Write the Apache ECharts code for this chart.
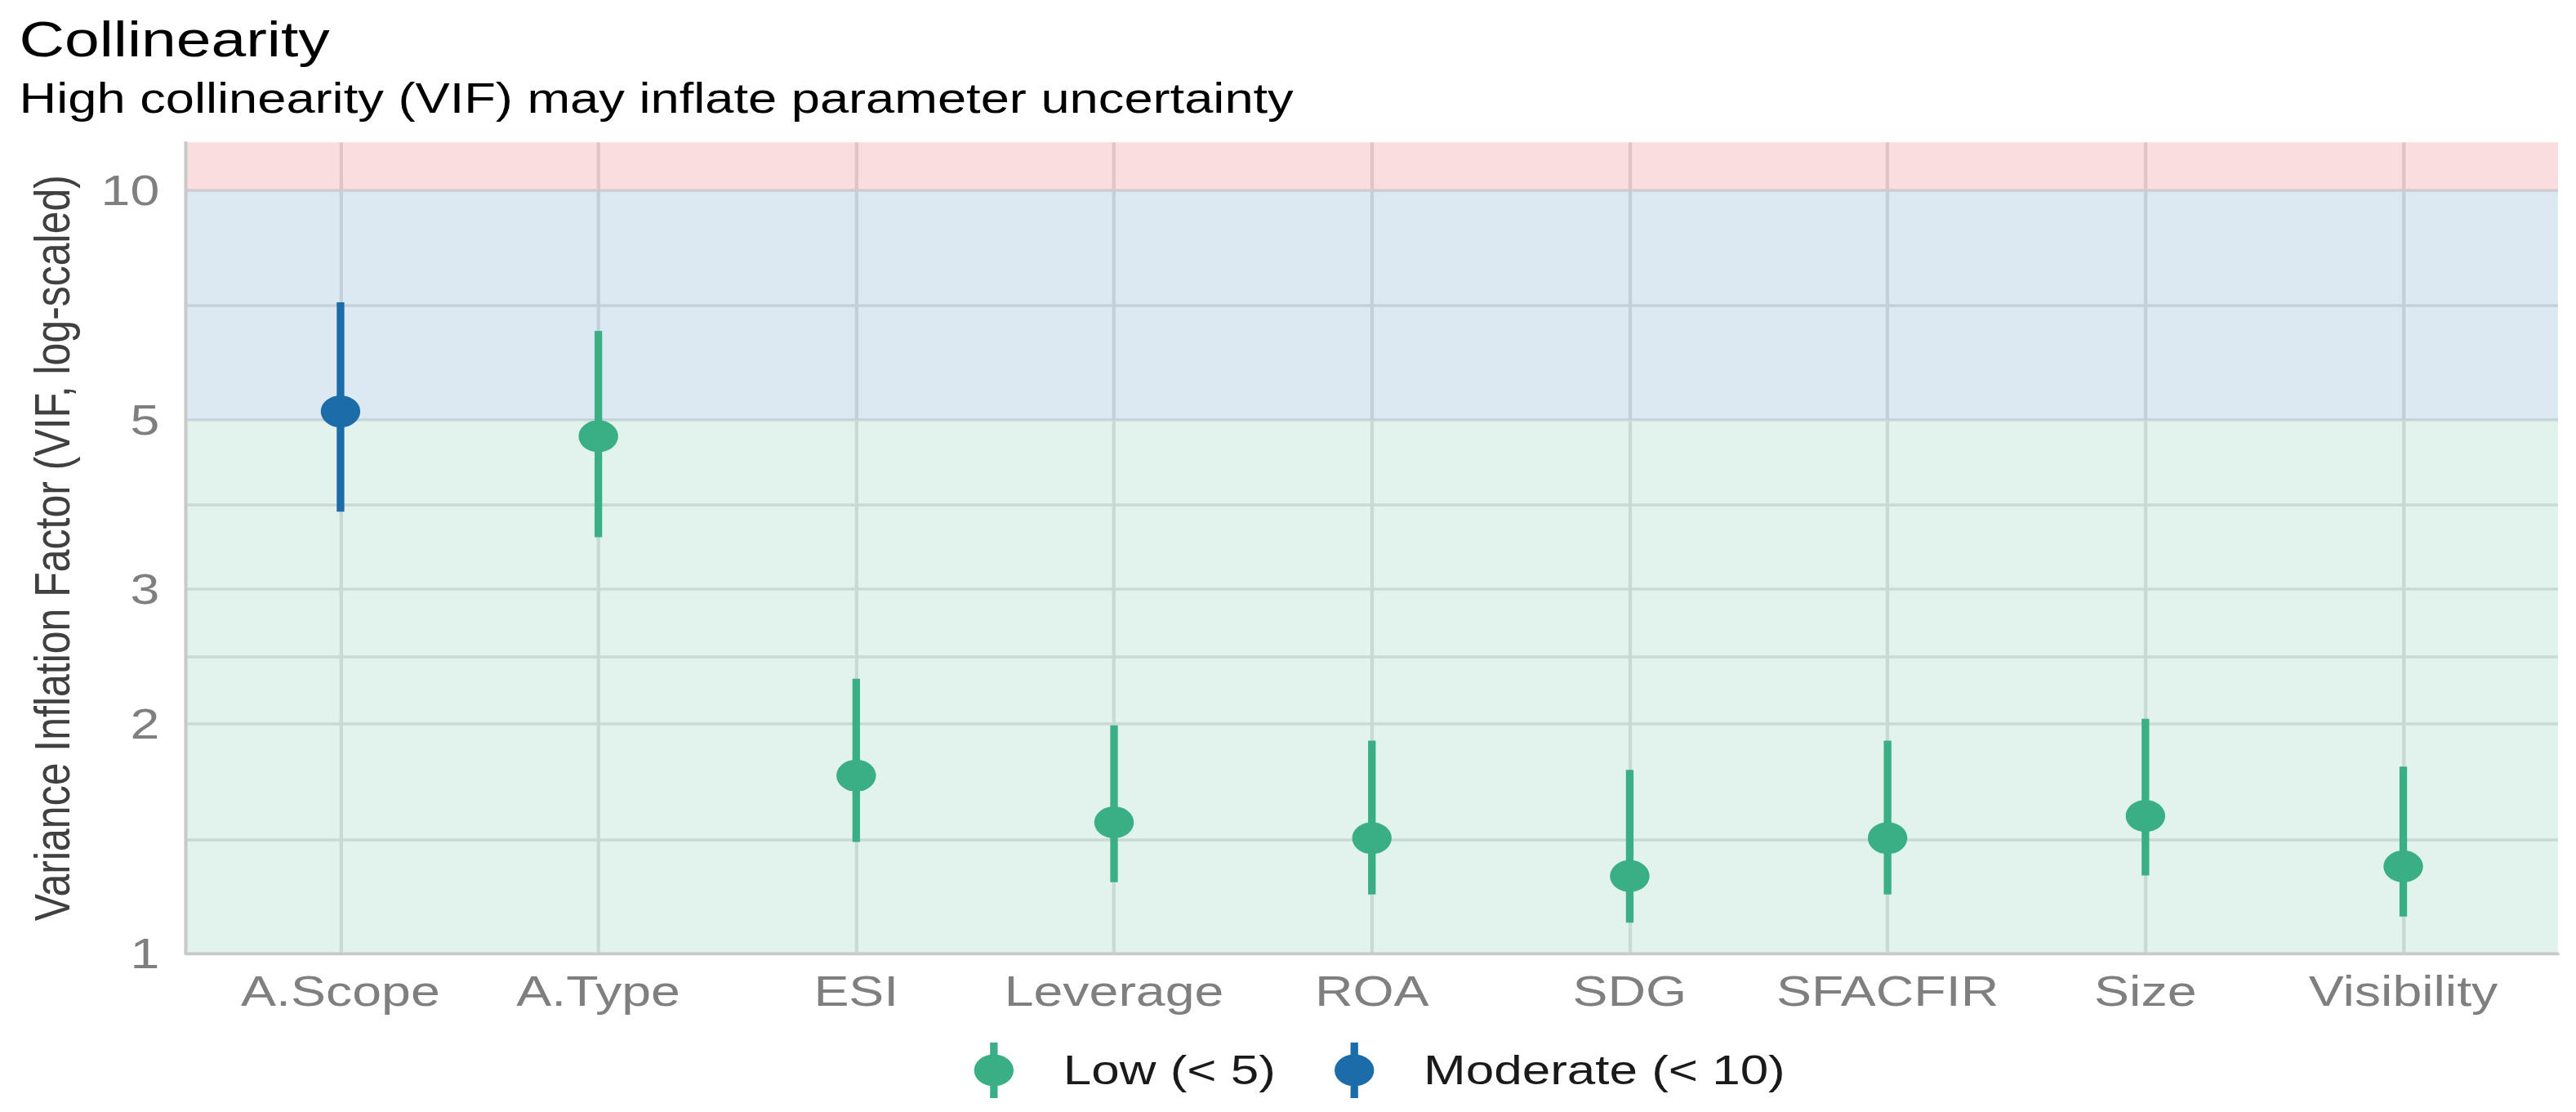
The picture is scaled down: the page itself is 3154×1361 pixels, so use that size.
<!DOCTYPE html>
<html>
<head>
<meta charset="utf-8">
<script src="https://cdn.jsdelivr.net/npm/echarts@6/dist/echarts.min.js"></script>
<style>
html, body { margin: 0; padding: 0; background: #ffffff; overflow: hidden; width: 3154px; height: 1361px; }
#chart { width: 2544px; height: 1361px; transform: scaleX(1.23978); transform-origin: 0 0; }
</style>
</head>
<body>
<div id="chart"></div>
<script>
// ---- data ----
const categories = ['A.Scope', 'A.Type', 'ESI', 'Leverage', 'ROA', 'SDG', 'SFACFIR', 'Size', 'Visibility'];
const vif    = [5.13, 4.76, 1.71, 1.485, 1.416, 1.263, 1.416, 1.514, 1.30];
const ciLow  = [3.79, 3.51, 1.40, 1.24, 1.195, 1.097, 1.195, 1.265, 1.118];
const ciHigh = [7.13, 6.54, 2.29, 1.99, 1.90, 1.74, 1.90, 2.03, 1.757];
const groupOf = ['Moderate (< 10)', 'Low (< 5)', 'Low (< 5)', 'Low (< 5)', 'Low (< 5)', 'Low (< 5)', 'Low (< 5)', 'Low (< 5)', 'Low (< 5)'];
const groupNames = ['Low (< 5)', 'Moderate (< 10)'];
const yBreaks = [1, 2, 3, 5, 10];
const yMinorBreaks = [1.414, 2.449, 3.873, 7.071];
const bandEdges = [1, 5, 10, 11.55];   // low / moderate / high zones, top = panel limit

const FONT = 'Liberation Sans, Arial, sans-serif';
const groupColor = { 'Low (< 5)': '#3AAF85', 'Moderate (< 10)': '#1B6CA8' };
const bandColors = ['rgba(58,175,133,0.15)', 'rgba(27,108,168,0.15)', 'rgba(205,32,31,0.15)'];
const catIdx = categories.map((c, i) => i);

const chart = echarts.init(document.getElementById('chart'), null, { renderer: 'svg' });

const legendIcon = 'path://M15.75,0L23.25,0L23.25,68L15.75,68Z M0,34A19.5,19.5,0,1,1,39,34A19.5,19.5,0,1,1,0,34Z';

const series = [];

// background grid lines (under the translucent zone bands)
series.push({
  type: 'scatter', name: '__grid', data: [], silent: true, z: 1,
  markLine: {
    z: 1, silent: true, symbol: ['none', 'none'], animation: false,
    label: { show: false },
    lineStyle: { color: '#E2E2E2', width: 3.5, type: 'solid' },
    emphasis: { disabled: true },
    data: [].concat(
      yBreaks.map(v => ({ yAxis: v })),
      yMinorBreaks.map(v => ({ yAxis: v })),
      catIdx.map(i => ({ xAxis: i }))
    )
  }
});

// zone bands
series.push({
  type: 'scatter', name: '__bands', data: [], silent: true, z: 2,
  markArea: {
    z: 2, silent: true, animation: false,
    emphasis: { disabled: true },
    data: bandColors.map((c, k) => [
      { yAxis: bandEdges[k], itemStyle: { color: c } },
      { yAxis: bandEdges[k + 1] }
    ])
  }
});

// points (first so the legend takes their colour)
groupNames.forEach(g => {
  series.push({
    type: 'scatter', name: g, z: 4, animation: false,
    symbol: 'circle', symbolSize: 39,
    itemStyle: { color: groupColor[g], opacity: 1 },
    data: catIdx.filter(i => groupOf[i] === g).map(i => [i, vif[i]])
  });
});

// CI bars
groupNames.forEach(g => {
  series.push({
    type: 'custom', name: g, z: 3, animation: false,
    itemStyle: { color: groupColor[g] },
    encode: { x: 0, y: [1, 2] },
    data: catIdx.filter(i => groupOf[i] === g).map(i => [i, ciLow[i], ciHigh[i]]),
    renderItem: function (params, api) {
      const p1 = api.coord([api.value(0), api.value(1)]);
      const p2 = api.coord([api.value(0), api.value(2)]);
      return {
        type: 'line',
        shape: { x1: p1[0], y1: p1[1], x2: p2[0], y2: p2[1] },
        style: { stroke: api.visual('color'), lineWidth: 7.5, lineCap: 'butt' }
      };
    }
  });
});

const option = {
  animation: false,
  title: [
    { text: 'Collinearity', left: 19, top: 17, padding: 0,
      textStyle: { fontSize: 62, fontWeight: 'normal', color: '#000000', fontFamily: FONT } },
    { text: 'High collinearity (VIF) may inflate parameter uncertainty', left: 19, top: 95, padding: 0,
      textStyle: { fontSize: 51, fontWeight: 'normal', color: '#000000', fontFamily: FONT } }
  ],
  legend: [
    { data: [{ name: groupNames[0], icon: legendIcon }], left: 962, top: 1276, padding: 0,
      itemWidth: 127, itemHeight: 68, selectedMode: false, symbolKeepAspect: true,
      textStyle: { fontSize: 50, color: '#1A1A1A', fontFamily: FONT } },
    { data: [{ name: groupNames[1], icon: legendIcon }], left: 1318, top: 1276, padding: 0,
      itemWidth: 127, itemHeight: 68, selectedMode: false, symbolKeepAspect: true,
      textStyle: { fontSize: 50, color: '#1A1A1A', fontFamily: FONT } }
  ],
  grid: { left: 183.5, right: 17.8, top: 174.3, bottom: 194.1, containLabel: false },
  xAxis: {
    type: 'value', min: -0.6, max: 8.6, z: 5,
    axisLine: { show: true, onZero: false, lineStyle: { color: '#C9C9C9', width: 3.3 } },
    axisTick: { show: false, customValues: catIdx },
    splitLine: { show: false },
    axisLabel: {
      customValues: catIdx,
      formatter: v => categories[Math.round(v)],
      fontSize: 52, color: '#7F7F7F', margin: 20, fontFamily: FONT
    }
  },
  yAxis: {
    type: 'log', logBase: 10, min: bandEdges[0], max: bandEdges[3], z: 5,
    axisLine: { show: true, onZero: false, lineStyle: { color: '#C9C9C9', width: 3.3 } },
    axisTick: { show: false, customValues: yBreaks },
    splitLine: { show: false },
    minorSplitLine: { show: false },
    axisLabel: {
      customValues: yBreaks,
      formatter: v => String(Math.round(v * 100) / 100),
      fontSize: 52, color: '#7F7F7F', margin: 26, fontFamily: FONT
    },
    name: 'Variance Inflation Factor (VIF, log-scaled)',
    nameLocation: 'middle', nameGap: 107,
    nameTextStyle: { fontSize: 50, color: '#404040', fontFamily: FONT }
  },
  series: series
};

chart.setOption(option);
</script>
</body>
</html>
